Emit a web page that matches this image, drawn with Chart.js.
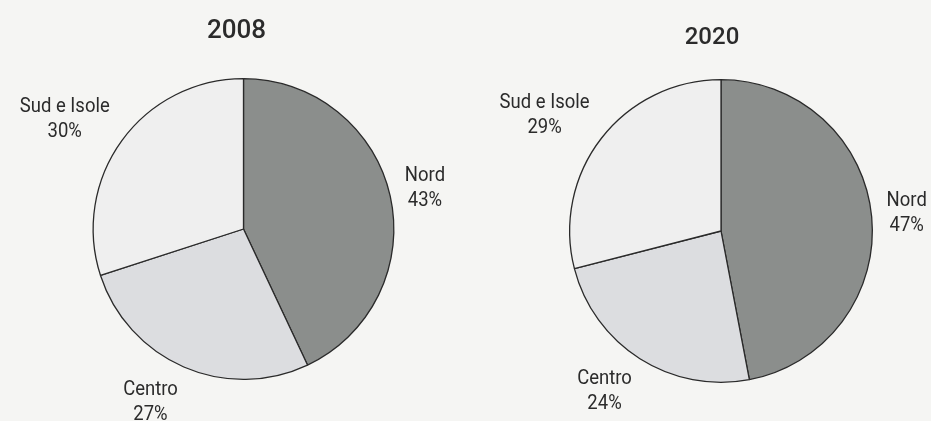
<!DOCTYPE html>
<html>
<head>
<meta charset="utf-8">
<script src="https://cdn.jsdelivr.net/npm/chart.js@4"></script>
<style>
  html, body { margin: 0; padding: 0; background: #f5f5f3; }
  #wrap { position: relative; width: 931px; height: 421px; overflow: hidden; }
  canvas { position: absolute; top: 0; }
  #c2008 { left: 0; }
  #c2020 { left: 480px; }
</style>
</head>
<body>
<div id="wrap">
  <canvas id="c2008" width="480" height="421"></canvas>
  <canvas id="c2020" width="451" height="421"></canvas>
</div>
<script>
const regions = ["Nord", "Centro", "Sud e Isole"]
const share2008 = [43, 27, 30]
const share2020 = [47, 24, 29]
const sliceColors = ["#8b8e8c", "#dcdde0", "#efefef"]

// labels look like a condensed grotesque: squeeze Roboto a little
const squeeze = 0.88

// title above each pie and two-line label outside every slice
const pieText = {
  id: "pieText",
  afterDatasetsDraw(chart, args, opts) {
    const ctx = chart.ctx
    const arcs = chart.getDatasetMeta(0).data
    const values = chart.data.datasets[0].data
    ctx.save()
    ctx.fillStyle = "#2b2b2b"
    ctx.textAlign = "center"

    ctx.font = `500 ${opts.titleSize}px Roboto`
    ctx.textBaseline = "alphabetic"
    ctx.fillText(opts.title, arcs[0].x + opts.titleShift, opts.titleY)

    ctx.font = "21px Roboto"
    ctx.textBaseline = "middle"
    arcs.forEach((arc, i) => {
      const { x, y, startAngle, endAngle, outerRadius } = arc.getProps(["x", "y", "startAngle", "endAngle", "outerRadius"], true)
      const mid = (startAngle + endAngle) / 2
      const dx = Math.cos(mid), dy = Math.sin(mid)
      const lines = [chart.data.labels[i], values[i] + "%"]
      const w = Math.max(...lines.map((t) => ctx.measureText(t).width)) * squeeze
      const h = 46
      const cx = x + dx * (outerRadius + 15) + Math.sign(dx) * w / 2
      const cy = y + dy * (outerRadius + 15) + dy * h / 2
      ctx.save()
      ctx.translate(cx, cy)
      ctx.scale(squeeze, 1)
      ctx.fillText(lines[0], 0, -12)
      ctx.fillText(lines[1], 0, 13)
      ctx.restore()
    })
    ctx.restore()
  }
}

function makePie(id, values, padding, title) {
  return new Chart(document.getElementById(id), {
    type: "pie",
    data: {
      labels: regions,
      datasets: [ { data: values, backgroundColor: sliceColors, borderColor: "#2a2a2a", borderWidth: 1.3 } ]
    },
    options: {
      responsive: false,
      animation: false,
      layout: { padding: padding },
      plugins: {
        legend: { display: false },
        tooltip: { enabled: false },
        pieText: title
      }
    },
    plugins: [pieText]
  })
}

makePie("c2008", share2008, { top: 78, bottom: 41, left: 20, right: 13 }, { title: "2008", titleSize: 26, titleY: 38, titleShift: -7 })
makePie("c2020", share2020, { top: 79, bottom: 38, left: 31, right: 0 }, { title: "2020", titleSize: 24, titleY: 44, titleShift: -9 })
</script>
</body>
</html>
